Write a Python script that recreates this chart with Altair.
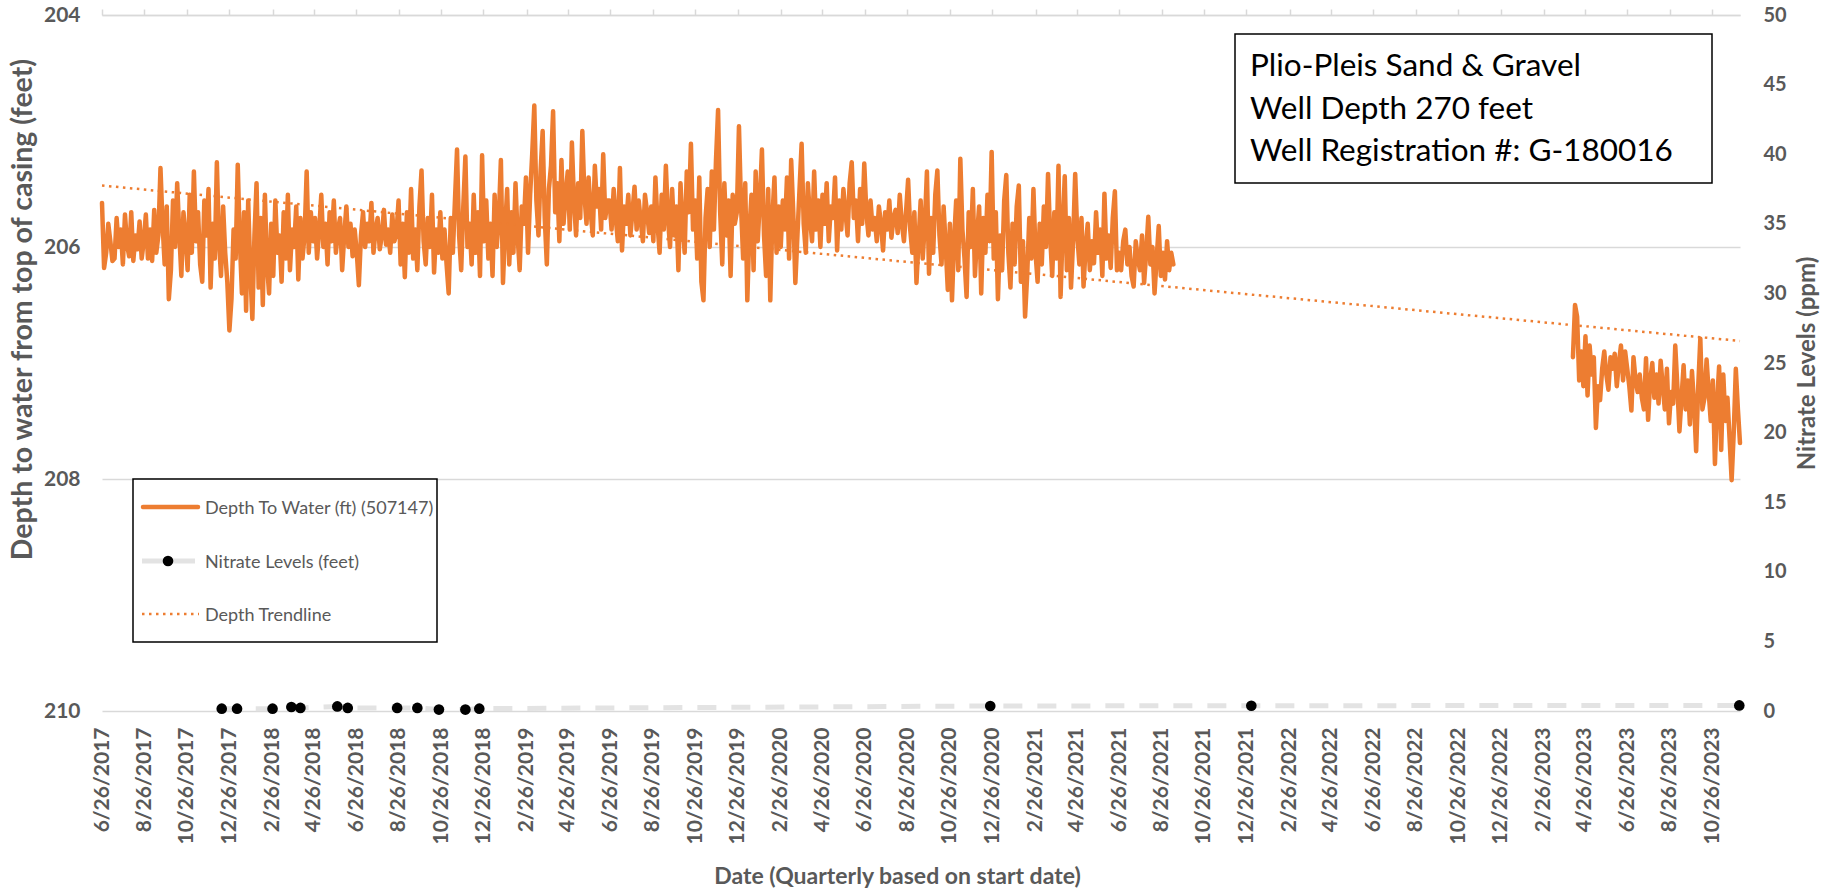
import altair as alt
import pandas as pd

FONT = "Lato"
GRAY = "#595959"
ORANGE = "#ED7D31"
GRID = "#D9D9D9"
NITRATE_LINE = "#E3E3E3"

# Depth to water (ft below top of casing), one reading every 3 days
sample_step = "3D"
depth_start_1 = "2017-06-26"
depth_feet_1 = [
    # Jun-Aug 2017
    205.62, 206.18, 206.05, 205.80, 205.95, 206.12, 206.10, 205.75, 206.00, 205.85,
    206.15, 205.72, 205.98, 206.08, 205.70, 206.12, 205.90, 206.02, 205.78, 206.10,
    # Aug-Oct 2017
    205.95, 205.72, 206.10, 205.85, 206.12, 205.68, 206.05, 205.90, 205.32, 205.80,
    206.15, 205.65, 206.45, 206.20, 205.60, 206.00, 205.45, 205.88, 206.25, 205.70,
    # Oct-Dec 2017
    205.90, 206.20, 205.55, 206.05, 205.35, 205.95, 205.70, 206.15, 206.30, 205.60,
    205.90, 205.50, 206.35, 205.80, 206.10, 205.27, 205.95, 206.25, 205.65, 206.05,
    # Dec 2017-Feb 2018
    206.30, 206.72, 206.45, 205.85, 206.10, 205.29, 205.95, 206.40, 205.70, 206.55,
    205.60, 206.20, 206.62, 205.90, 205.45, 206.35, 205.75, 206.50, 205.55, 206.15, 206.40,
    # Feb-Apr 2018
    205.80, 206.25, 205.60, 206.05, 205.90, 206.30, 205.70, 206.10, 205.55, 206.20,
    205.85, 206.00, 205.65, 206.28, 205.75, 206.10, 205.90, 205.35, 206.05, 205.70,
    # Apr-Jun 2018
    205.95, 205.75, 206.10, 205.85, 205.55, 206.00, 205.80, 206.15, 205.70, 205.95,
    205.60, 206.05, 205.85, 205.75, 206.20, 205.90, 205.65, 206.00, 205.80, 206.08,
    # Jun-Aug 2018
    205.85, 206.05, 206.33, 205.90, 205.70, 206.00, 205.80, 205.95, 205.62, 206.05,
    205.85, 205.75, 206.02, 205.90, 205.68, 205.98, 205.85, 206.05, 205.72, 205.95, 205.88,
    # Aug-Oct 2018
    205.60, 206.15, 205.80, 206.26, 205.70, 206.05, 205.50, 206.10, 205.85, 206.20,
    205.65, 205.34, 205.95, 206.15, 205.75, 206.00, 205.55, 206.22, 205.85, 206.05,
    # Oct-Dec 2018
    205.70, 206.10, 205.85, 206.15, 206.40, 205.75, 206.05, 205.60, 205.16, 205.90,
    206.20, 205.65, 205.22, 206.00, 205.80, 206.15, 205.55, 206.05, 205.70, 206.25,
    # Dec 2018-Feb 2019
    205.21, 205.95, 205.60, 206.10, 205.80, 206.25, 205.55, 206.00, 205.75, 205.25,
    206.31, 205.85, 205.50, 206.15, 205.70, 206.05, 205.45, 205.90, 206.20, 205.65,
    # Feb-Apr 2019
    205.80, 205.40, 206.05, 205.55, 205.20, 204.78, 205.60, 205.90, 205.35, 205.00,
    205.75, 206.15, 205.50, 205.30, 204.83, 205.70, 205.45, 205.95, 205.25, 205.80, 205.55,
    # Apr-Jun 2019
    205.35, 205.85, 205.10, 205.60, 205.90, 205.45, 205.75, 205.00, 205.55, 205.80,
    205.40, 205.70, 205.90, 205.30, 205.65, 205.50, 205.85, 205.20, 205.75, 205.60,
    # Jun-Aug 2019
    205.60, 205.85, 205.50, 205.75, 205.95, 205.32, 206.03, 205.65, 205.80, 205.55,
    205.90, 205.70, 205.48, 205.85, 205.60, 205.78, 205.95, 205.55, 205.70, 205.88,
    # Aug-Oct 2019
    205.65, 205.95, 205.40, 205.80, 206.05, 205.55, 205.85, 205.30, 205.75, 206.00,
    205.50, 205.90, 205.65, 206.20, 205.45, 205.80, 206.05, 205.35, 205.70, 205.11, 205.85,
    # Oct-Dec 2019
    205.60, 206.10, 205.40, 206.30, 206.46, 205.75, 205.50, 206.00, 205.35, 205.85,
    205.25, 204.82, 205.70, 206.15, 205.45, 205.90, 205.60, 206.25, 205.55, 205.80,
    # Dec 2019-Feb 2020
    205.70, 204.96, 205.65, 206.10, 205.45, 206.46, 205.85, 205.55, 206.20, 205.35,
    205.95, 205.60, 205.16, 205.90, 206.25, 205.50, 206.46, 205.75, 205.40, 206.05, 205.65,
    # Feb-Apr 2020
    206.00, 205.60, 205.85, 205.40, 206.10, 205.25, 205.70, 206.31, 205.90, 205.50,
    205.11, 205.80, 206.05, 205.45, 205.75, 205.95, 205.35, 205.85, 205.60, 206.00,
    # Apr-Jun 2020
    205.55, 205.80, 205.45, 205.95, 205.65, 205.75, 205.40, 206.03, 205.60, 205.85,
    205.50, 205.70, 205.90, 205.45, 205.27, 205.75, 205.60, 205.95, 205.50, 205.80, 205.28,
    # Jun-Aug 2020
    205.70, 205.90, 205.60, 205.85, 205.75, 205.95, 205.65, 205.80, 206.03, 205.70,
    205.85, 205.60, 205.92, 205.75, 205.68, 205.88, 205.55, 205.80, 205.95, 205.70,
    # Aug-Oct 2020
    205.42, 205.85, 206.05, 205.70, 206.31, 205.95, 205.60, 206.10, 205.80, 205.35,
    206.23, 205.75, 206.05, 205.55, 205.34, 205.90, 206.15, 205.65, 206.00, 206.37,
    # Oct-Dec 2020
    205.80, 206.46, 205.95, 205.60, 206.20, 205.24, 205.85, 206.10, 206.43, 205.70,
    206.00, 205.50, 206.25, 205.90, 205.65, 206.40, 205.75, 206.05, 205.55, 205.95, 205.18,
    # Dec 2020-Feb 2021
    206.10, 205.70, 206.45, 205.90, 206.20, 205.60, 205.38, 206.05, 206.35, 205.80,
    206.15, 205.65, 205.47, 206.30, 205.95, 206.60, 206.25, 205.75, 206.10, 205.50,
    # Feb-Apr 2021
    206.05, 206.30, 205.80, 206.15, 205.65, 206.00, 205.37, 205.90, 206.25, 205.70,
    206.10, 205.30, 206.43, 205.85, 205.39, 206.20, 205.75, 206.35, 205.95, 205.37,
    # Apr-Jun 2021
    205.90, 206.15, 205.75, 206.34, 206.00, 205.80, 206.20, 205.95, 206.14, 205.70,
    206.05, 205.85, 206.25, 205.54, 206.10, 205.90, 206.18, 205.75, 205.52, 206.20,
    # Jun-Aug 2021
    206.05, 206.20, 205.95, 205.85, 206.15, 206.00, 206.25, 206.34, 205.95, 206.10,
    206.20, 205.90, 206.31, 206.05, 205.74, 206.15, 206.00, 206.40, 206.10, 205.82, 206.25,
    # late Aug-Sep 2021
    206.05, 206.28, 205.95, 206.20, 206.05, 206.15,
]
depth_start_2 = "2023-04-09"
depth_feet_2 = [
    206.95, 206.50, 206.60, 207.15, 206.90, 207.20, 206.77, 207.28,
    206.85, 207.10, 206.95, 207.56, 207.20, 207.32, 207.05, 206.90,
    207.10, 207.23, 206.95, 207.05, 206.92, 207.20, 207.00, 206.85,
    207.15, 206.90, 207.05, 207.20, 207.41, 206.95, 207.15, 207.25,
    207.10, 207.30, 207.40, 206.96, 207.49, 207.15, 207.00, 207.30,
    207.10, 207.35, 206.98, 207.20, 207.40, 207.05, 207.52, 207.25,
    207.35, 206.85, 207.20, 207.59, 207.30, 207.02, 207.40, 207.15,
    207.53, 207.07, 207.35, 207.76, 207.20, 206.79, 207.40, 207.30,
    206.97, 207.25, 207.50, 207.15, 207.87, 207.35, 207.03, 207.75,
    207.10, 207.50, 207.30, 207.65, 208.01, 207.60, 207.05, 207.40,
    207.69,
]

# Linear depth trendline end points
trend_dates = ["2017-06-26", "2023-12-05"]
trend_feet = [205.47, 206.81]

# Nitrate samples (ppm)
nitrate_dates = [
    "2017-12-15", "2018-01-06", "2018-02-26", "2018-03-25", "2018-04-07", "2018-05-30",
    "2018-06-14", "2018-08-24", "2018-09-22", "2018-10-23", "2018-11-30", "2018-12-20",
    "2020-12-23", "2022-01-02", "2023-12-04",
]
nitrate_ppm = [0.17, 0.17, 0.17, 0.29, 0.22, 0.33, 0.22, 0.22, 0.22, 0.10, 0.10, 0.17,
               0.36, 0.38, 0.40]

x_domain = ["2017-06-26", "2023-12-05"]
tick_dates = [
    "2017-06-26", "2017-08-26", "2017-10-26", "2017-12-26",
    "2018-02-26", "2018-04-26", "2018-06-26", "2018-08-26", "2018-10-26", "2018-12-26",
    "2019-02-26", "2019-04-26", "2019-06-26", "2019-08-26", "2019-10-26", "2019-12-26",
    "2020-02-26", "2020-04-26", "2020-06-26", "2020-08-26", "2020-10-26", "2020-12-26",
    "2021-02-26", "2021-04-26", "2021-06-26", "2021-08-26", "2021-10-26", "2021-12-26",
    "2022-02-26", "2022-04-26", "2022-06-26", "2022-08-26", "2022-10-26", "2022-12-26",
    "2023-02-26", "2023-04-26", "2023-06-26", "2023-08-26", "2023-10-26",
]
depth_ticks = [204, 206, 208, 210]
nitrate_ticks = [0, 5, 10, 15, 20, 25, 30, 35, 40, 45, 50]

info_lines = ["Plio-Pleis Sand & Gravel", "Well Depth 270 feet", "Well Registration #: G-180016"]
legend_labels = ["Depth To Water (ft) (507147)", "Nitrate Levels (feet)", "Depth Trendline"]
x_title = "Date (Quarterly based on start date)"
y_title = "Depth to water from top of casing (feet)"
y2_title = "Nitrate Levels (ppm)"


def to_dt(s):
    y, m, d = (int(p) for p in s.split("-"))
    return alt.DateTime(year=y, month=m, date=d)


seg1 = pd.DataFrame({
    "date": pd.date_range(depth_start_1, periods=len(depth_feet_1), freq=sample_step),
    "depth": depth_feet_1, "segment": "a"})
seg2 = pd.DataFrame({
    "date": pd.date_range(depth_start_2, periods=len(depth_feet_2), freq=sample_step),
    "depth": depth_feet_2, "segment": "b"})
depth_df = pd.concat([seg1, seg2], ignore_index=True)
trend_df = pd.DataFrame({"date": pd.to_datetime(trend_dates), "depth": trend_feet})
nitrate_df = pd.DataFrame({"date": pd.to_datetime(nitrate_dates), "ppm": nitrate_ppm})

x_scale = alt.Scale(domain=[to_dt(s) for s in x_domain])
depth_scale = alt.Scale(domain=[204, 210], reverse=True)
nitrate_scale = alt.Scale(domain=[0, 50])
tick_values = [to_dt(s) for s in tick_dates]

x_bottom_axis = alt.Axis(
    orient="bottom", values=tick_values, format="%-m/%-d/%Y", labelAngle=270,
    labelFont=FONT, labelFontSize=21, labelFontWeight="bold", labelColor=GRAY,
    labelPadding=16, labelOverlap=False, ticks=False, tickSize=0, domain=False, grid=False,
    title=x_title, titleFont=FONT, titleFontSize=23, titleFontWeight="bold", titleColor=GRAY,
    titleX=795, titleY=165, titleBaseline="middle", titleAlign="center",
)
x_top_axis = alt.Axis(
    orient="top", values=tick_values, labels=False, ticks=True, tickSize=6,
    tickColor=GRID, tickWidth=1.5, domain=True, domainColor=GRID, domainWidth=1.5,
    grid=False, title=None,
)
y_left_axis = alt.Axis(
    orient="left", values=depth_ticks, labelFont=FONT, labelFontSize=21,
    labelFontWeight="bold", labelColor=GRAY, labelPadding=22, ticks=False, tickSize=0,
    domain=False, grid=True, gridColor=GRID, gridWidth=1.5,
    title=y_title, titleFont=FONT, titleFontSize=28.5, titleFontWeight="bold", titleColor=GRAY,
    titleAngle=270, titleX=-80, titleY=294, titleBaseline="middle", titleAlign="center",
)
y_right_axis = alt.Axis(
    orient="right", values=nitrate_ticks, labelFont=FONT, labelFontSize=20,
    labelFontWeight="bold", labelColor=GRAY, labelPadding=23, labelAlign="left",
    ticks=False, tickSize=0, domain=False, grid=False,
    title=y2_title, titleFont=FONT, titleFontSize=24, titleFontWeight="bold", titleColor=GRAY,
    titleAngle=270, titleX=67, titleY=348, titleBaseline="middle", titleAlign="center",
)

depth_line = alt.Chart(depth_df).mark_line(
    color=ORANGE, strokeWidth=4.5, strokeJoin="round", strokeCap="round"
).encode(
    x=alt.X("date:T", scale=x_scale, axis=x_bottom_axis),
    y=alt.Y("depth:Q", scale=depth_scale, axis=y_left_axis),
    detail="segment:N",
)

trend_line = alt.Chart(trend_df).mark_line(
    color=ORANGE, strokeWidth=2.5, strokeDash=[2.5, 4.5]
).encode(
    x=alt.X("date:T", scale=x_scale, axis=x_top_axis),
    y=alt.Y("depth:Q", scale=depth_scale, axis=None),
)

nitrate_line = alt.Chart(nitrate_df).mark_line(
    color=NITRATE_LINE, strokeWidth=5, strokeDash=[19, 15]
).encode(
    x=alt.X("date:T", scale=x_scale, axis=None),
    y=alt.Y("ppm:Q", scale=nitrate_scale, axis=y_right_axis),
)

nitrate_dots = alt.Chart(nitrate_df).mark_circle(color="black", size=113, opacity=1).encode(
    x=alt.X("date:T", scale=x_scale, axis=None),
    y=alt.Y("ppm:Q", scale=nitrate_scale, axis=None),
)

# Well information box (top right)
info_df = pd.DataFrame({"text": ["\n".join(info_lines)]})
info_box = alt.Chart(info_df).mark_rect(fill="white", stroke="black", strokeWidth=1.5).encode(
    x=alt.value(1133), x2=alt.value(1610), y=alt.value(19), y2=alt.value(168)
)
info_text = alt.Chart(info_df).mark_text(
    align="left", baseline="middle", font=FONT, fontSize=31.5, color="black",
    lineBreak="\n", lineHeight=42.5,
).encode(x=alt.value(1148), y=alt.value(52), text="text:N")

# Series key (lower left)
legend_df = pd.DataFrame({"text": ["\n".join(legend_labels)]})
legend_box = alt.Chart(legend_df).mark_rect(fill="white", stroke="black", strokeWidth=1.5).encode(
    x=alt.value(31), x2=alt.value(335), y=alt.value(464), y2=alt.value(627)
)
key_depth = alt.Chart(legend_df).mark_rule(color=ORANGE, strokeWidth=4.5, strokeCap="round").encode(
    x=alt.value(41), x2=alt.value(96), y=alt.value(492)
)
key_nitrate = alt.Chart(legend_df).mark_rule(color=NITRATE_LINE, strokeWidth=5).encode(
    x=alt.value(40), x2=alt.value(93), y=alt.value(546)
)
key_nitrate_dot = alt.Chart(legend_df).mark_circle(color="black", size=113, opacity=1).encode(
    x=alt.value(66), y=alt.value(546)
)
key_trend = alt.Chart(legend_df).mark_rule(color=ORANGE, strokeWidth=2.5, strokeDash=[2.5, 4.5]).encode(
    x=alt.value(40), x2=alt.value(97), y=alt.value(599)
)
legend_text = alt.Chart(legend_df).mark_text(
    align="left", baseline="middle", font=FONT, fontSize=18, color=GRAY,
    lineBreak="\n", lineHeight=53.5,
).encode(x=alt.value(103), y=alt.value(494), text="text:N")

chart = alt.layer(
    depth_line, trend_line, nitrate_line, nitrate_dots,
    info_box, info_text,
    legend_box, key_depth, key_nitrate, key_nitrate_dot, key_trend, legend_text,
).resolve_scale(
    y="independent"
).resolve_axis(
    x="independent", y="independent"
).properties(
    width=1638, height=696,
    autosize=alt.AutoSizeParams(type="none"),
    padding={"left": 102, "top": 15, "right": 101, "bottom": 183},
    background="white",
).configure_view(stroke=None)

chart.save("out.html", embed_options={"renderer": "svg", "actions": False})
